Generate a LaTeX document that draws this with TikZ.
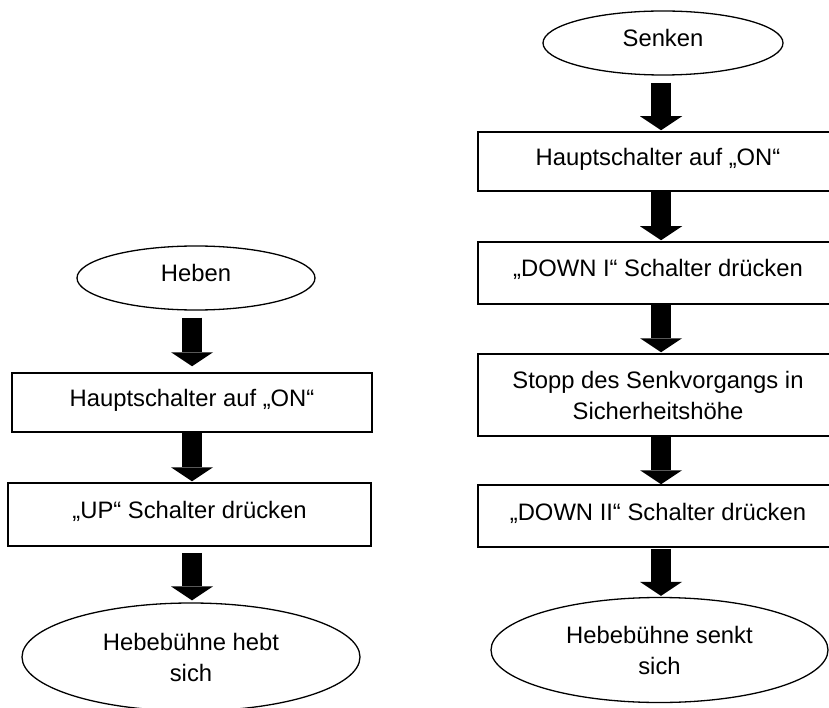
\documentclass[tikz,border=0pt]{standalone}
\usepackage{fontspec}
\setmainfont{Liberation Sans}
\usetikzlibrary{shapes.geometric,arrows.meta}
\begin{document}
\begin{tikzpicture}[x=1pt,y=-1pt,
  font=\fontsize{23.8}{31}\selectfont,
  stepbox/.style={draw=black,line width=1.5pt,rectangle,inner sep=0pt,align=center,minimum width=360pt},
  oval/.style={draw=black,line width=1.3pt,ellipse,inner sep=0pt,align=center},
  oneline/.style={text height=17pt,text depth=9pt},
  bigarrow/.style={line width=20pt,-{Triangle[width=42pt,length=14pt,line width=0pt]}}
]
\useasboundingbox (0,0) rectangle (829,708);
\clip (0,0) rectangle (829,708);
\fill[white] (0,0) rectangle (829,708);
% left column
\coordinate (lx) at (192,0);
\node[oval,oneline,minimum width=238pt,minimum height=64pt] (heben) at (196,278) {Heben};
\node[stepbox,oneline,minimum height=59pt] (l1) at (192,402.5) {Hauptschalter auf „ON“};
\node[stepbox,oneline,minimum width=363pt,minimum height=63pt] (l2) at (189.5,514.5) {„UP“ Schalter drücken};
\node[oval,minimum width=338pt,minimum height=108pt] (lend) at (191,657) {Hebebühne hebt\\sich};
\draw[bigarrow,shorten <=7pt,shorten >=6pt] (heben.south -| lx) -- (l1.north -| lx);
\draw[bigarrow,shorten >=1pt] (l1.south -| lx) -- (l2.north -| lx);
\draw[bigarrow,shorten <=6pt,shorten >=2pt] (l2.south -| lx) -- (lend.north -| lx);
% right column
\coordinate (rx) at (661,0);
\node[oval,oneline,minimum width=240pt,minimum height=64pt] (senken) at (663,43) {Senken};
\node[stepbox,oneline,minimum height=59pt] (r1) at (658,161.5) {Hauptschalter auf „ON“};
\node[stepbox,oneline,minimum height=62pt] (r2) at (658,273) {„DOWN I“ Schalter drücken};
\node[stepbox,minimum height=82pt] (r3) at (658,395) {Stopp des Senkvorgangs in\\Sicherheitshöhe};
\node[stepbox,oneline,minimum height=62pt] (r4) at (658,516) {„DOWN II“ Schalter drücken};
\node[oval,minimum width=337pt,minimum height=105pt] (rend) at (659.5,650) {Hebebühne senkt\\sich};
\draw[bigarrow,shorten <=7pt,shorten >=1pt] (senken.south -| rx) -- (r1.north -| rx);
\draw[bigarrow,shorten >=1pt] (r1.south -| rx) -- (r2.north -| rx);
\draw[bigarrow,shorten >=1pt] (r2.south -| rx) -- (r3.north -| rx);
\draw[bigarrow] (r3.south -| rx) -- (r4.north -| rx);
\draw[bigarrow,shorten <=1pt,shorten >=1pt] (r4.south -| rx) -- (rend.north -| rx);
\end{tikzpicture}
\end{document}
